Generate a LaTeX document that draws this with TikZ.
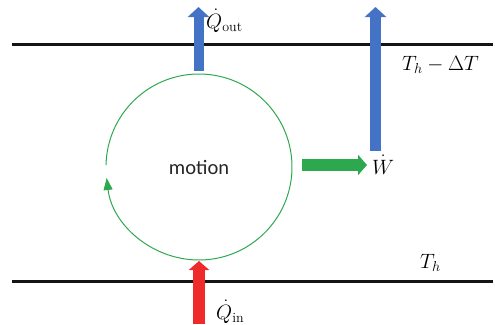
\documentclass[tikz,border=0pt]{standalone}
\usepackage{fontspec}
\newfontfamily\carlito{Carlito}
\usetikzlibrary{arrows.meta}
\definecolor{oblue}{HTML}{4472C4}
\definecolor{ored}{HTML}{EE2A2A}
\definecolor{ogreen}{HTML}{2EA84E}
\begin{document}
\begin{tikzpicture}[x=1pt,y=-1pt,
  bar/.style={line width=3pt,black!92},
  blk/.style args={#1/#2/#3}{line width=#1,-{Triangle[length=#2,width=#3]}},
  lab/.style={anchor=base west,inner sep=0pt,font=\fontsize{20}{24}\selectfont}]
\useasboundingbox (0,0) rectangle (495,324);
% temperature levels
\coordinate (ta) at (12,44);  \coordinate (tb) at (493,44);
\coordinate (ba) at (12,281); \coordinate (bb) at (493,281);
\draw[bar] (ta) -- (tb);
\draw[bar] (ba) -- (bb);
% cycle
\node[circle,minimum size=186pt,inner sep=0pt,font=\carlito\fontsize{20.5}{24}\selectfont,text=black!85] (cyc) at (199,167) {motion};
\draw[ogreen,line width=1pt,-{Triangle[length=12pt,width=9pt]}]
  (cyc.center) ++(181.2:93) arc[start angle=181.2,end angle=533.2,radius=93];
% arrow end points
\coordinate (qo0) at (198.5,71);  \coordinate (qo1) at (198.5,7);
\coordinate (w0) at (375.5,151);  \coordinate (w1) at (375.5,7);
\coordinate (g0) at (302,165);    \coordinate (g1) at (367,165);
\coordinate (qi0) at (199,324);   \coordinate (qi1) at (199,261);
\draw[oblue,blk=10pt/10pt/21pt] (qo0) -- (qo1);
\draw[oblue,blk=11pt/10pt/21pt] (w0) -- (w1);
\draw[ogreen,blk=12pt/9pt/20pt] (g0) -- (g1);
\draw[ored,blk=12pt/9pt/20pt] (qi0) -- (qi1);
% labels
\node[lab] (lqo) at (206,28) {$\dot Q_{\mathrm{out}}$};
\node[lab] (ltc) at (402,70) {$T_h-\Delta T$};
\node[lab] (lth) at (420,268) {$T_h$};
\node[lab] (lw) at (372,174) {$\dot W$};
\node[lab] (lqi) at (216,319) {$\dot Q_{\mathrm{in}}$};
\end{tikzpicture}
\end{document}
